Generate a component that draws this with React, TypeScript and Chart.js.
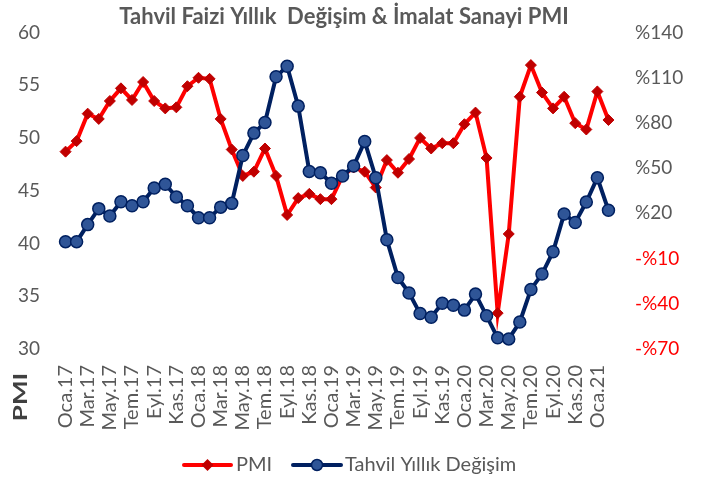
import React, { useEffect, useRef } from "react";
import { Chart, registerables } from "chart.js";

Chart.register(...registerables);

const months = ["Oca", "Şub", "Mar", "Nis", "May", "Haz", "Tem", "Ağu", "Eyl", "Eki", "Kas", "Ara"];
const categories: string[] = [];
for (let y = 17; y <= 21; y++) {
  for (let m = 0; m < 12; m++) {
    if (y === 21 && m > 1) break;
    categories.push(`${months[m]}.${y}`);
  }
}

const pmiValues = [
  48.7, 49.7, 52.3, 51.8, 53.5, 54.7, 53.6, 55.3, 53.5, 52.8, 52.9, 54.9,
  55.7, 55.6, 51.8, 48.9, 46.4, 46.8, 49.0, 46.4, 42.7, 44.3, 44.7, 44.2,
  44.2, 46.4, 47.2, 46.8, 45.3, 47.9, 46.7, 48.0, 50.0, 49.0, 49.5, 49.5,
  51.3, 52.4, 48.1, 33.4, 40.9, 53.9, 56.9, 54.3, 52.8, 53.9, 51.4, 50.8,
  54.4, 51.7,
];

const bondChange = [
  1.2, 1.2, 12.5, 23.1, 18.2, 27.7, 25, 27.7, 36.8, 39.3, 30.9, 25,
  17.1, 17.1, 24.1, 26.6, 58.4, 73.2, 80.2, 110.6, 117.6, 91.1, 47.8, 46.9,
  39.9, 44.8, 51.4, 67.7, 43.6, 2.5, -22.6, -32.8, -46.5, -48.9, -39.6, -41,
  -44.2, -33.6, -48, -62.6, -63.3, -52.1, -30.5, -20.3, -5.5, 19.6, 13.9, 27.5,
  43.6, 22,
];

const leftTicks = { min: 30, max: 60, step: 5 };
const rightTicks = { min: -70, max: 140, step: 30 };

const TITLE = "Tahvil Faizi Yıllık  Değişim & İmalat Sanayi PMI";
const FONT = "Lato, 'Open Sans', sans-serif";
const GRAY = "#595959";

const decorPlugin = {
  id: "decor",
  afterDraw(chart: any) {
    const ctx = chart.ctx as CanvasRenderingContext2D;
    ctx.save();
    // title
    ctx.fillStyle = GRAY;
    ctx.font = `bold 22px ${FONT}`;
    ctx.textAlign = "center";
    ctx.textBaseline = "middle";
    ctx.fillText(TITLE, 344, 17);
    // PMI axis label
    ctx.save();
    ctx.translate(21, 397);
    ctx.rotate(-Math.PI / 2);
    ctx.scale(1.45, 1);
    ctx.font = `bold 18px ${FONT}`;
    ctx.fillStyle = "#404040";
    ctx.textAlign = "center";
    ctx.fillText("PMI", 0, 0);
    ctx.restore();
    // legend
    const ly = 465;
    ctx.lineCap = "round";
    ctx.lineWidth = 4;
    ctx.strokeStyle = "#FF0000";
    ctx.beginPath();
    ctx.moveTo(184, ly);
    ctx.lineTo(231, ly);
    ctx.stroke();
    ctx.fillStyle = "#C00000";
    ctx.beginPath();
    ctx.moveTo(207.5, ly - 6);
    ctx.lineTo(213.5, ly);
    ctx.lineTo(207.5, ly + 6);
    ctx.lineTo(201.5, ly);
    ctx.closePath();
    ctx.fill();
    ctx.strokeStyle = "#002060";
    ctx.beginPath();
    ctx.moveTo(293, ly);
    ctx.lineTo(341, ly);
    ctx.stroke();
    ctx.fillStyle = "#2F5597";
    ctx.lineWidth = 1.5;
    ctx.beginPath();
    ctx.arc(317, ly, 5.5, 0, Math.PI * 2);
    ctx.fill();
    ctx.stroke();
    ctx.fillStyle = GRAY;
    ctx.font = `20px ${FONT}`;
    ctx.textAlign = "left";
    ctx.fillText("PMI", 236, ly);
    ctx.fillText("Tahvil Yıllık Değişim", 345, ly);
    ctx.restore();
  },
};

export default function App() {
  const ref = useRef<HTMLCanvasElement>(null);
  useEffect(() => {
    document.body.style.margin = "0";
    const chart = new Chart(ref.current!, {
      type: "line",
      data: {
        labels: categories,
        datasets: [
          {
            label: "PMI",
            data: pmiValues,
            yAxisID: "y",
            borderColor: "#FF0000",
            borderWidth: 4,
            pointStyle: "rectRot",
            pointRadius: 5.5,
            pointBackgroundColor: "#C00000",
            pointBorderColor: "#C00000",
            pointBorderWidth: 1,
            tension: 0,
            order: 2,
          },
          {
            label: "Tahvil Yıllık Değişim",
            data: bondChange,
            yAxisID: "y1",
            borderColor: "#002060",
            borderWidth: 4,
            pointStyle: "circle",
            pointRadius: 6,
            pointBackgroundColor: "#2F5597",
            pointBorderColor: "#002060",
            pointBorderWidth: 1.5,
            tension: 0,
            order: 1,
          },
        ],
      },
      options: {
        responsive: false,
        animation: false,
        layout: { padding: { top: 18, left: 0, right: 0, bottom: 0 } },
        plugins: { legend: { display: false }, tooltip: { enabled: false }, title: { display: false } },
        scales: {
          x: {
            type: "category",
            offset: true,
            grid: { display: false, drawTicks: false },
            border: { display: false },
            ticks: {
              autoSkip: false,
              maxRotation: 90,
              minRotation: 90,
              padding: 16,
              color: GRAY,
              font: { family: FONT, size: 20 },
              callback: (_v: any, i: number) => (i % 2 === 0 ? categories[i] : ""),
            },
            afterFit: (s: any) => {
              s.height = 135;
            },
          },
          y: {
            position: "left",
            min: leftTicks.min,
            max: leftTicks.max,
            grid: { display: false, drawTicks: false },
            border: { display: false },
            ticks: { stepSize: leftTicks.step, padding: 20, color: GRAY, font: { family: FONT, size: 19 } },
            afterFit: (s: any) => {
              s.width = 60;
            },
          },
          y1: {
            position: "right",
            min: rightTicks.min,
            max: rightTicks.max,
            grid: { display: false, drawTicks: false },
            border: { display: false },
            ticks: {
              stepSize: rightTicks.step,
              padding: 21,
              font: { family: FONT, size: 19 },
              color: (c: any) => (c.tick && c.tick.value < 0 ? "#FF0000" : GRAY),
              callback: (v: any) => (v < 0 ? `-%${Math.abs(v)}` : `%${v}`),
            },
            afterFit: (s: any) => {
              s.width = 94;
            },
          },
        },
      },
      plugins: [decorPlugin],
    });
    return () => chart.destroy();
  }, []);
  return (
    <div style={{ position: "fixed", left: 0, top: 0, width: 708, height: 484, background: "#fff" }}>
      <canvas ref={ref} width={708} height={484} />
    </div>
  );
}
